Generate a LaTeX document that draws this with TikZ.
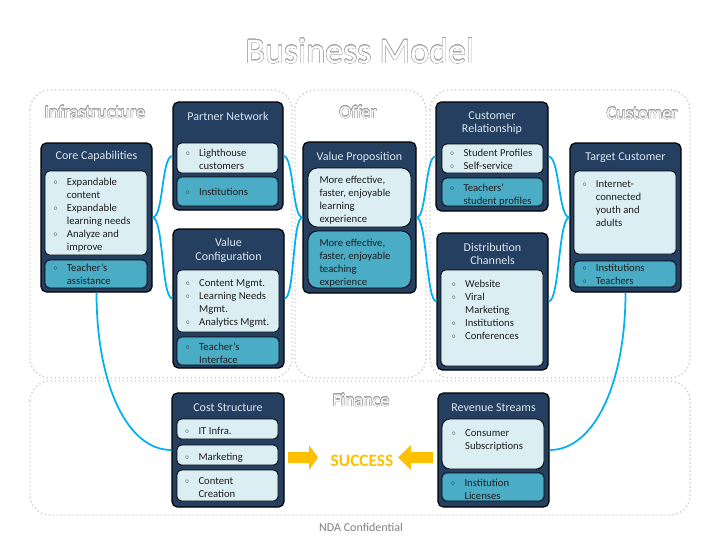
\documentclass[tikz,border=0pt]{standalone}
\usepackage{fontspec}
\setmainfont{Carlito}
\usepackage{graphicx}
\usepackage{contour}
\contourlength{0.25pt}
\contournumber{24}
\usetikzlibrary{calc,fit}

\definecolor{navy}{RGB}{36,63,96}
\definecolor{paleblue}{RGB}{219,238,243}
\definecolor{seablue}{RGB}{75,172,198}
\definecolor{linkblue}{RGB}{0,176,240}
\definecolor{amber}{RGB}{255,192,0}
\definecolor{titlegrey}{RGB}{220,230,242}
\definecolor{ink}{RGB}{30,30,30}

\newcommand{\bul}{\raisebox{0.5pt}{\scalebox{0.7}{$\circ$}}}
\newenvironment{blist}{\begin{tabular}{@{}p{10pt}@{}l@{}}}{\end{tabular}}

\tikzset{every picture/.style={line width=0.75pt}}
\tikzset{
  region/.style={draw=gray!40, dotted, line width=1pt, rounded corners=15pt},
  darkbox/.style={draw=black, fill=navy, line width=0.9pt, rounded corners=4pt, inner sep=0pt},
  lightbox/.style={draw=black, fill=paleblue, line width=0.6pt, rounded corners=3.5pt, inner sep=0pt},
  tealbox/.style={lightbox, fill=seablue},
  boxtitle/.style={text=titlegrey, font=\fontsize{9}{10.3}\selectfont, align=center, inner sep=0pt},
  txt/.style={anchor=north west, inner sep=0pt, text=ink, font=\fontsize{8}{9.75}\selectfont},
  section/.style={text=white, inner sep=0pt, font=\fontsize{13.5}{15}\selectfont},
  link/.style={draw=linkblue, line width=1.3pt},
}

\begin{document}
\begin{tikzpicture}[x=0.75pt,y=0.75pt,yscale=-1,xscale=1]
    \useasboundingbox (0,0) rectangle (720,540);

    %Shape: Dotted Regions
    \draw[region] (30,90) rectangle (292,378);
    \draw[region] (295,90) rectangle (426,378);
    \draw[region] (430,90) rectangle (690,378);
    \draw[region] (30,381) rectangle (690,515);

    % Text Node
    \node[text=white, inner sep=0pt, font=\fontsize{27}{30}\selectfont, anchor=base] (title) at (360,63) {\contour{gray!70}{Business Model}};
    % Text Node
    \node[section, anchor=base west] (infra) at (44,118) {\contour{gray!75}{Infrastructure}};
    \node[section, anchor=base] (offer) at (358,118) {\contour{gray!75}{Offer}};
    \node[section, anchor=base east] (cust) at (678,119) {\contour{gray!75}{Customer}};
    \node[section, anchor=base] (fin) at (361,406) {\contour{gray!75}{Finance}};

    %Core Capabilities
    \node[darkbox, fit={(41,143) (152,292)}] (cc) {};
    \node[boxtitle] (cc-t) at (96.5,156.7) {Core Capabilities};
    \node[lightbox, fit={(45,171) (147,255)}] (cc-1) {};
    \node[txt] (cc-1t) at (53,175.4) {\begin{blist}\bul & Expandable\\ & content\\ \bul & Expandable\\ & learning needs\\ \bul & Analyze and\\ & improve\end{blist}};
    \node[tealbox, fit={(45,260) (147,288)}] (cc-2) {};
    \node[txt] (cc-2t) at (53,262) {\begin{blist}\bul & Teacher's\\ & assistance\end{blist}};

    %Partner Network
    \node[darkbox, fit={(173,102) (283,210)}] (pn) {};
    \node[boxtitle] (pn-t) at (228,116) {Partner Network};
    \node[lightbox, fit={(177,143) (278,173)}] (pn-1) {};
    \node[txt] (pn-1t) at (185.3,147) {\begin{blist}\bul & Lighthouse\\ & customers\end{blist}};
    \node[tealbox, fit={(177,177) (278,206)}] (pn-2) {};
    \node[txt] (pn-2t) at (185.3,185.4) {\begin{blist}\bul & Institutions\end{blist}};

    %Value Configuration
    \node[darkbox, fit={(173,229) (284,368)}] (vc) {};
    \node[boxtitle] (vc-t) at (228.5,250) {Value\\Configuration};
    \node[lightbox, fit={(177,270) (279,332)}] (vc-1) {};
    \node[txt] (vc-1t) at (185.3,277) {\begin{blist}\bul & Content Mgmt.\\ \bul & Learning Needs\\ & Mgmt.\\ \bul & Analytics Mgmt.\end{blist}};
    \node[tealbox, fit={(177,337) (279,365)}] (vc-2) {};
    \node[txt] (vc-2t) at (185.3,340.4) {\begin{blist}\bul & Teacher's\\ & Interface\end{blist}};

    %Value Proposition
    \node[darkbox, fit={(303,142) (416,293)}] (vp) {};
    \node[boxtitle] (vp-t) at (359.5,157) {Value Proposition};
    \node[lightbox, rounded corners=7pt, fit={(308,168) (411,227)}] (vp-1) {};
    \node[txt] (vp-1t) at (319,173.7) {\begin{tabular}{@{}l@{}}More effective,\\ faster, enjoyable\\ learning\\ experience\end{tabular}};
    \node[tealbox, rounded corners=7pt, fit={(308,231) (411,288)}] (vp-2) {};
    \node[txt] (vp-2t) at (319,236.4) {\begin{tabular}{@{}l@{}}More effective,\\ faster, enjoyable\\ teaching\\ experience\end{tabular}};

    %Customer Relationship
    \node[darkbox, fit={(436,102) (548,211)}] (cr) {};
    \node[boxtitle] (cr-t) at (492,123) {Customer\\Relationship};
    \node[lightbox, fit={(442,144) (543,173)}] (cr-1) {};
    \node[txt] (cr-1t) at (449.7,147) {\begin{blist}\bul & Student Profiles\\ \bul & Self-service\end{blist}};
    \node[tealbox, fit={(442,178) (543,206)}] (cr-2) {};
    \node[txt] (cr-2t) at (449.7,181.4) {\begin{blist}\bul & Teachers'\\ & student profiles\end{blist}};

    %Target Customer
    \node[darkbox, fit={(570,143) (681,292)}] (tc) {};
    \node[boxtitle] (tc-t) at (625.5,157.3) {Target Customer};
    \node[lightbox, fit={(574,171) (676,254)}] (tc-1) {};
    \node[txt] (tc-1t) at (582,178) {\begin{blist}\bul & Internet-\\ & connected\\ & youth and\\ & adults\end{blist}};
    \node[tealbox, fit={(574,261) (676,287)}] (tc-2) {};
    \node[txt] (tc-2t) at (582,262) {\begin{blist}\bul & Institutions\\ \bul & Teachers\end{blist}};

    %Distribution Channels
    \node[darkbox, fit={(437,233) (548,370)}] (dc) {};
    \node[boxtitle] (dc-t) at (492.5,254) {Distribution\\Channels};
    \node[lightbox, fit={(441,270) (543,366)}] (dc-1) {};
    \node[txt] (dc-1t) at (451.3,277.7) {\begin{blist}\bul & Website\\ \bul & Viral\\ & Marketing\\ \bul & Institutions\\ \bul & Conferences\end{blist}};

    %Cost Structure
    \node[darkbox, fit={(172,393) (284,507)}] (cs) {};
    \node[boxtitle] (cs-t) at (228,407.7) {Cost Structure};
    \node[lightbox, fit={(177,419) (278,439)}] (cs-1) {};
    \node[txt] (cs-1t) at (184.7,424.7) {\begin{blist}\bul & IT Infra.\end{blist}};
    \node[lightbox, fit={(177,445) (278,465)}] (cs-2) {};
    \node[txt] (cs-2t) at (184.7,450.4) {\begin{blist}\bul & Marketing\end{blist}};
    \node[lightbox, fit={(177,470) (278,501)}] (cs-3) {};
    \node[txt] (cs-3t) at (184.7,474.4) {\begin{blist}\bul & Content\\ & Creation\end{blist}};

    %Revenue Streams
    \node[darkbox, fit={(438,393) (549,507)}] (rs) {};
    \node[boxtitle] (rs-t) at (493.5,407.7) {Revenue Streams};
    \node[lightbox, rounded corners=6pt, fit={(442,419) (544,469)}] (rs-1) {};
    \node[txt] (rs-1t) at (451.3,426.4) {\begin{blist}\bul & Consumer\\ & Subscriptions\end{blist}};
    \node[tealbox, fit={(442,473) (544,501)}] (rs-2) {};
    \node[txt] (rs-2t) at (450.7,476.4) {\begin{blist}\bul & Institution\\ & Licenses\end{blist}};

    %Braces
    \draw[link] (cc.east) .. controls ($(cc.east)+(11,0)$) and ($(pn.west)+(-11,0)$) .. (pn.west);
    \draw[link] (cc.east) .. controls ($(cc.east)+(11,0)$) and ($(vc.west)+(-11,0)$) .. (vc.west);
    \draw[link] (pn.east) .. controls ($(pn.east)+(10,0)$) and ($(vp.west)+(-10,0)$) .. (vp.west);
    \draw[link] (vc.east) .. controls ($(vc.east)+(10,0)$) and ($(vp.west)+(-10,0)$) .. (vp.west);
    \draw[link] (vp.east) .. controls ($(vp.east)+(10,0)$) and ($(cr.west)+(-10,0)$) .. (cr.west);
    \draw[link] (vp.east) .. controls ($(vp.east)+(10,0)$) and ($(dc.west)+(-10,0)$) .. (dc.west);
    \draw[link] (cr.east) .. controls ($(cr.east)+(11,0)$) and ($(tc.west)+(-11,0)$) .. (tc.west);
    \draw[link] (dc.east) .. controls ($(dc.east)+(11,0)$) and ($(tc.west)+(-11,0)$) .. (tc.west);
    %Long links
    \draw[link] (cc.south) .. controls ($(cc.south)+(0,90)$) and ($(cs.west)+(-45,0)$) .. (cs.west);
    \draw[link] (tc.south) .. controls ($(tc.south)+(0,90)$) and ($(rs.east)+(45,0)$) .. (rs.east);

    %Block Arrows
    \fill[amber] (288,452) -- (309,452) -- (309,445) -- (318,457.5) -- (309,470) -- (309,463) -- (288,463) -- cycle;
    \fill[amber] (433,452) -- (411,452) -- (411,445) -- (398,457.5) -- (411,470) -- (411,463) -- (433,463) -- cycle;
    % Text Node
    \node[text=amber, font=\fontsize{13}{15}\selectfont\bfseries, inner sep=0pt] (succ) at (362,461) {SUCCESS};
    % Text Node
    \node[text=gray, font=\fontsize{9}{10}\selectfont, inner sep=0pt] (nda) at (361,527) {NDA Confidential};

\end{tikzpicture}
\end{document}
